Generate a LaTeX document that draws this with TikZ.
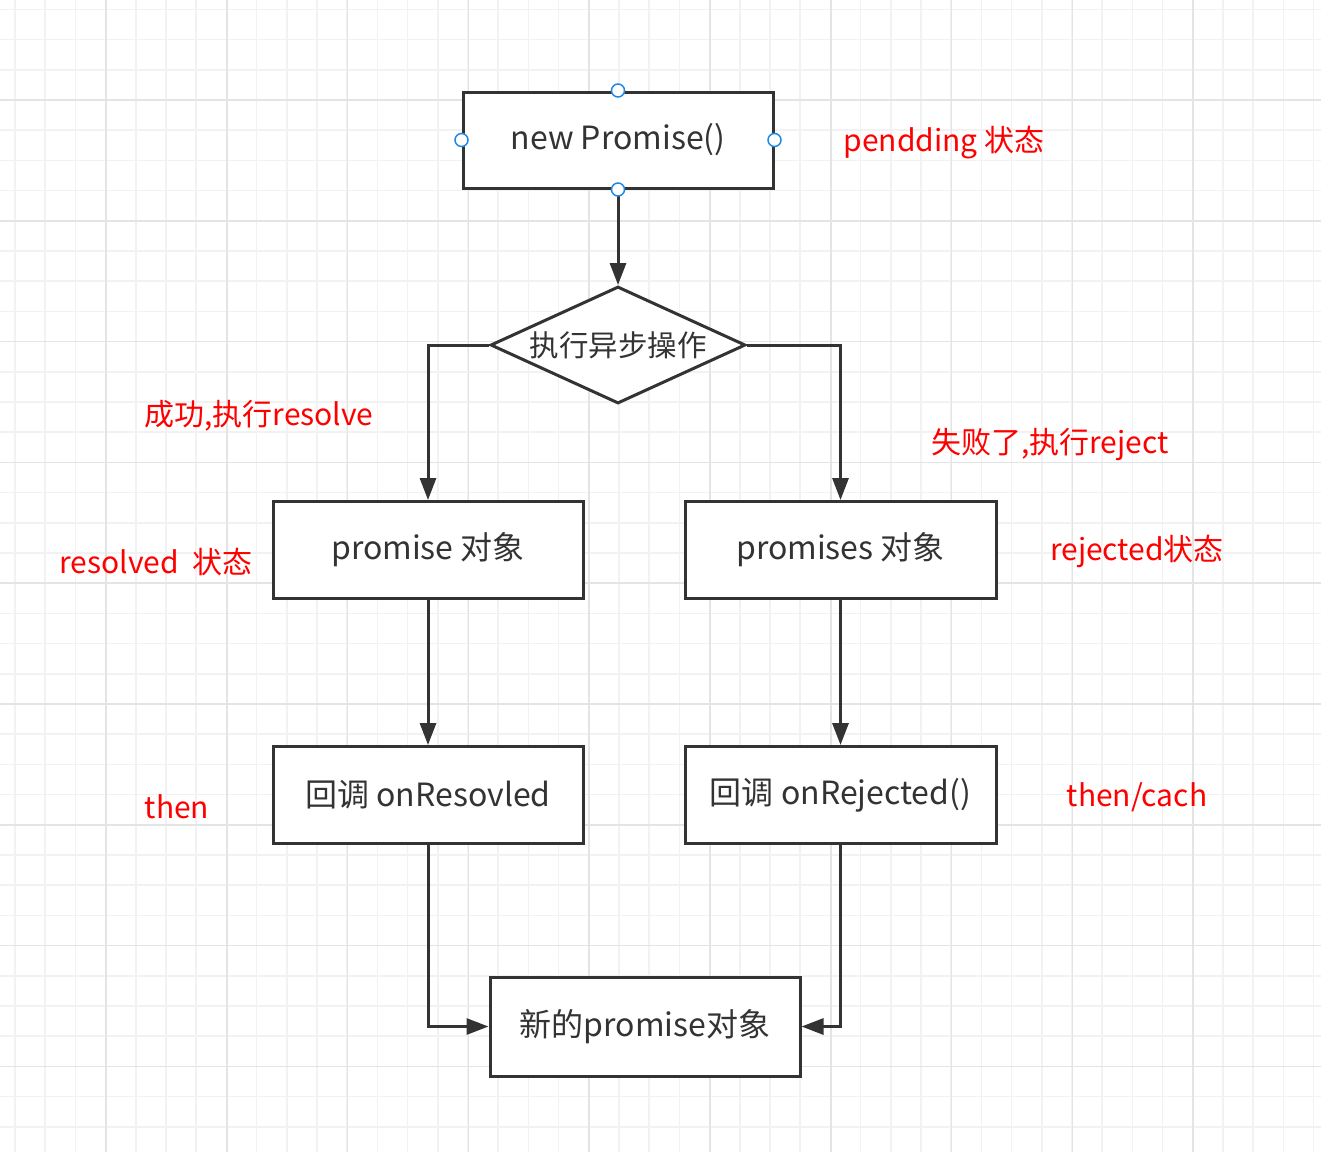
\documentclass[tikz,border=0pt]{standalone}
\usepackage{fontspec}
\setmainfont{Noto Sans CJK SC}
\usetikzlibrary{shapes.geometric,arrows.meta}
\definecolor{linegray}{HTML}{333333}
\definecolor{minorgrid}{HTML}{F2F2F2}
\definecolor{majorgrid}{HTML}{E4E4E4}
\definecolor{handleblue}{HTML}{1E88E5}

\begin{document}
\begin{tikzpicture}[x=1pt,y=-1pt,
	box/.style={draw=linegray,line width=3pt,fill=white,minimum width=310pt,minimum height=97pt,text=linegray,font=\fontsize{32}{38}\selectfont},
	decision/.style={diamond,aspect=2.18,draw=linegray,line width=3pt,fill=white,inner sep=0pt,minimum width=255pt,minimum height=117pt,text=linegray,font=\fontsize{29.5}{34}\selectfont},
	note/.style={text=red,font=\fontsize{30}{36}\selectfont},
	flow/.style={draw=linegray,line width=3pt,-{Triangle[length=22pt,width=16pt]}},
	handle/.style={circle,draw=handleblue,fill=white,line width=1.5pt,inner sep=0pt,minimum size=13pt}]
\useasboundingbox (0,0) rectangle (1321,1152);
\fill[white] (0,0) rectangle (1321,1152);
% grid
\foreach \i in {0,...,43} \draw[minorgrid,line width=1.5pt] ({15+30.2*\i},0) -- ({15+30.2*\i},1152);
\foreach \j in {0,...,37} \draw[minorgrid,line width=1.5pt] (0,{9.4+30.2*\j}) -- (1321,{9.4+30.2*\j});
\foreach \i in {0,...,9} \draw[majorgrid,line width=1.5pt] ({106+120.8*\i},0) -- ({106+120.8*\i},1152);
\foreach \j in {0,...,8} \draw[majorgrid,line width=1.5pt] (0,{100+120.8*\j}) -- (1321,{100+120.8*\j});

\path (618,140) node[box,minimum height=96pt] (np) {new Promise()}
		(618,345) node[decision] (dec) {执行异步操作}
		(428,550) node[box] (pres) {promise 对象}
		(840.5,550) node[box,minimum width=311pt] (prej) {promises 对象}
		(428,795) node[box] (cbres) {回调 onResovled}
		(840.5,795) node[box,minimum width=311pt] (cbrej) {回调 onRejected()}
		(645,1026.5) node[box,minimum height=99pt] (newp) {新的promise对象}
		;
\path (944,143) node[note] (lpend) {pendding 状态}
		(259,416) node[note] (lok) {成功,执行resolve}
		(1050,445) node[note] (lfail) {失败了,执行reject}
		(156,562) node[note] (lres) {resolved\ \ 状态}
		(1137,551) node[note] (lrej) {rejected状态}
		(177,807) node[note] (lthen) {then}
		(1137,797) node[note] (lcatch) {then/cach}
		;
\draw [flow] (node cs:name=np,anchor=south) -- (node cs:name=dec,anchor=north);
\draw [flow] (node cs:name=dec,anchor=west) -| (node cs:name=pres,anchor=north);
\draw [flow] (node cs:name=dec,anchor=east) -| (node cs:name=prej,anchor=north);
\draw [flow] (node cs:name=pres,anchor=south) -- (node cs:name=cbres,anchor=north);
\draw [flow] (node cs:name=prej,anchor=south) -- (node cs:name=cbrej,anchor=north);
\draw [flow] (node cs:name=cbres,anchor=south) |- (node cs:name=newp,anchor=west);
\draw [flow] (node cs:name=cbrej,anchor=south) |- (node cs:name=newp,anchor=east);
% selection handles
\path (np.north) node[handle] (hn) {}
		(np.south) node[handle] (hs) {}
		(np.west) node[handle] (hw) {}
		(np.east) node[handle] (he) {};
\end{tikzpicture}
\end{document}
